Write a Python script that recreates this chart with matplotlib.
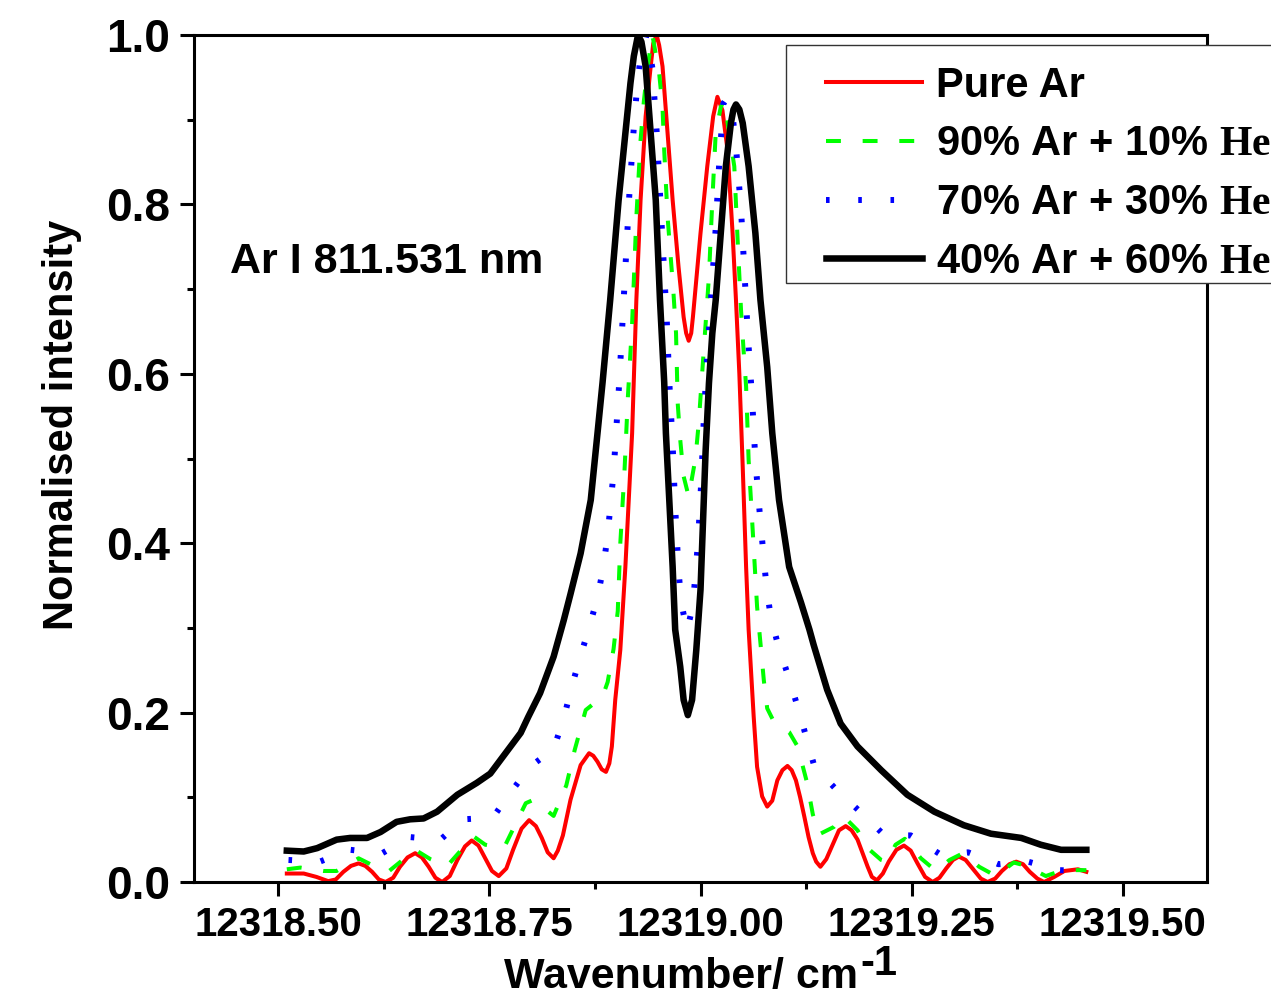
import numpy as np
import matplotlib
matplotlib.use("Agg")
import matplotlib.pyplot as plt
from matplotlib.lines import Line2D
from matplotlib.patches import Rectangle
from matplotlib.legend_handler import HandlerLine2D
from matplotlib.ticker import MultipleLocator, FormatStrFormatter

plt.rcParams['font.family'] = ['Liberation Sans', 'DejaVu Sans']
plt.rcParams['font.weight'] = 'bold'
plt.rcParams['mathtext.fontset'] = 'custom'
plt.rcParams['mathtext.rm'] = 'Liberation Serif:bold'

# -------------------------------------------------
# DATA (wavenumber / cm^-1, normalised intensity)
# -------------------------------------------------
pure_ar = [
    (12318.510, 0.010), (12318.530, 0.010), (12318.545, 0.006), (12318.559, 0.001),
    (12318.568, 0.003), (12318.577, 0.012), (12318.586, 0.019), (12318.595, 0.022),
    (12318.603, 0.019), (12318.611, 0.012), (12318.619, 0.003), (12318.627, 0.000),
    (12318.636, 0.005), (12318.644, 0.018), (12318.653, 0.029), (12318.662, 0.034),
    (12318.670, 0.029), (12318.678, 0.018), (12318.686, 0.005), (12318.694, 0.000),
    (12318.703, 0.007), (12318.712, 0.026), (12318.721, 0.042), (12318.729, 0.049),
    (12318.737, 0.043), (12318.745, 0.028), (12318.753, 0.013), (12318.761, 0.007),
    (12318.770, 0.016), (12318.778, 0.038), (12318.788, 0.063), (12318.797, 0.073),
    (12318.805, 0.066), (12318.812, 0.052), (12318.819, 0.035), (12318.826, 0.028),
    (12318.831, 0.037), (12318.837, 0.055), (12318.846, 0.097), (12318.858, 0.138),
    (12318.868, 0.152), (12318.873, 0.149), (12318.878, 0.142), (12318.883, 0.133),
    (12318.888, 0.130), (12318.892, 0.140), (12318.895, 0.160), (12318.899, 0.215),
    (12318.905, 0.274), (12318.911, 0.372), (12318.919, 0.530), (12318.924, 0.687),
    (12318.929, 0.805), (12318.935, 0.904), (12318.941, 0.963), (12318.944, 0.990),
    (12318.948, 1.000), (12318.951, 0.988), (12318.955, 0.963), (12318.961, 0.884),
    (12318.967, 0.805), (12318.974, 0.726), (12318.980, 0.667), (12318.983, 0.648),
    (12318.986, 0.639), (12318.989, 0.648), (12318.991, 0.667), (12319.000, 0.766),
    (12319.008, 0.845), (12319.015, 0.904), (12319.020, 0.927), (12319.026, 0.911),
    (12319.032, 0.864), (12319.038, 0.766), (12319.042, 0.687), (12319.046, 0.600),
    (12319.050, 0.490), (12319.054, 0.372), (12319.057, 0.298), (12319.063, 0.195),
    (12319.067, 0.136), (12319.073, 0.101), (12319.079, 0.089), (12319.085, 0.096),
    (12319.091, 0.120), (12319.097, 0.132), (12319.103, 0.137), (12319.108, 0.132),
    (12319.113, 0.120), (12319.118, 0.100), (12319.123, 0.077), (12319.128, 0.053),
    (12319.133, 0.034), (12319.137, 0.024), (12319.142, 0.018), (12319.149, 0.027),
    (12319.156, 0.043), (12319.164, 0.061), (12319.172, 0.066), (12319.179, 0.061),
    (12319.186, 0.050), (12319.192, 0.034), (12319.198, 0.018), (12319.203, 0.006),
    (12319.209, 0.002), (12319.216, 0.010), (12319.223, 0.024), (12319.232, 0.038),
    (12319.241, 0.043), (12319.249, 0.037), (12319.257, 0.022), (12319.266, 0.006),
    (12319.275, 0.000), (12319.283, 0.005), (12319.291, 0.016), (12319.299, 0.026),
    (12319.306, 0.030), (12319.314, 0.026), (12319.323, 0.015), (12319.332, 0.004),
    (12319.340, 0.000), (12319.349, 0.004), (12319.357, 0.013), (12319.366, 0.021),
    (12319.374, 0.024), (12319.382, 0.021), (12319.390, 0.012), (12319.399, 0.004),
    (12319.407, 0.000), (12319.419, 0.006), (12319.431, 0.013), (12319.447, 0.015),
    (12319.457, 0.012),
]

ar90_he10 = [
    (12318.510, 0.015), (12318.526, 0.017), (12318.553, 0.013), (12318.569, 0.013),
    (12318.595, 0.028), (12318.609, 0.021), (12318.630, 0.012), (12318.662, 0.038),
    (12318.680, 0.027), (12318.700, 0.019), (12318.731, 0.054), (12318.745, 0.044),
    (12318.767, 0.040), (12318.793, 0.093), (12318.802, 0.097), (12318.826, 0.078),
    (12318.841, 0.114), (12318.851, 0.156), (12318.864, 0.203), (12318.884, 0.219),
    (12318.890, 0.236), (12318.897, 0.275), (12318.902, 0.320), (12318.905, 0.400),
    (12318.910, 0.486), (12318.914, 0.573), (12318.919, 0.660), (12318.924, 0.785),
    (12318.929, 0.876), (12318.933, 0.923), (12318.938, 0.967), (12318.943, 1.000),
    (12318.951, 0.955), (12318.955, 0.915), (12318.957, 0.864), (12318.961, 0.785),
    (12318.965, 0.734), (12318.968, 0.695), (12318.971, 0.648), (12318.973, 0.565),
    (12318.976, 0.522), (12318.980, 0.479), (12318.986, 0.455), (12318.994, 0.500),
    (12318.998, 0.543), (12319.001, 0.587), (12319.004, 0.630), (12319.010, 0.715),
    (12319.014, 0.805), (12319.018, 0.884), (12319.024, 0.915), (12319.028, 0.923),
    (12319.034, 0.884), (12319.040, 0.845), (12319.044, 0.757), (12319.048, 0.675),
    (12319.051, 0.628), (12319.054, 0.585), (12319.057, 0.498), (12319.062, 0.412),
    (12319.067, 0.325), (12319.071, 0.282), (12319.075, 0.238), (12319.079, 0.205),
    (12319.087, 0.189), (12319.105, 0.177), (12319.115, 0.160), (12319.126, 0.118),
    (12319.133, 0.080), (12319.140, 0.056), (12319.158, 0.065), (12319.169, 0.078),
    (12319.186, 0.061), (12319.198, 0.040), (12319.214, 0.026), (12319.221, 0.024),
    (12319.231, 0.044), (12319.242, 0.051), (12319.261, 0.028), (12319.279, 0.013),
    (12319.295, 0.026), (12319.311, 0.034), (12319.330, 0.018), (12319.350, 0.007),
    (12319.371, 0.023), (12319.386, 0.019), (12319.409, 0.007), (12319.429, 0.014),
    (12319.457, 0.014),
]

ar70_he30 = [
    (12318.512, 0.026), (12318.549, 0.024), (12318.585, 0.038), (12318.623, 0.034),
    (12318.656, 0.053), (12318.692, 0.050), (12318.719, 0.074), (12318.754, 0.076),
    (12318.776, 0.107), (12318.798, 0.136), (12318.826, 0.157), (12318.838, 0.193),
    (12318.847, 0.229), (12318.857, 0.264), (12318.868, 0.300), (12318.878, 0.336),
    (12318.885, 0.372), (12318.890, 0.410), (12318.897, 0.483), (12318.904, 0.594),
    (12318.910, 0.706), (12318.916, 0.817), (12318.921, 0.891), (12318.924, 0.928),
    (12318.928, 0.966), (12318.936, 1.000), (12318.943, 0.961), (12318.948, 0.887),
    (12318.952, 0.813), (12318.956, 0.738), (12318.960, 0.664), (12318.963, 0.591),
    (12318.967, 0.516), (12318.970, 0.442), (12318.974, 0.368), (12318.977, 0.331),
    (12318.984, 0.296), (12318.991, 0.327), (12318.997, 0.401), (12319.001, 0.475),
    (12319.004, 0.549), (12319.008, 0.623), (12319.013, 0.697), (12319.018, 0.772),
    (12319.022, 0.846), (12319.027, 0.919), (12319.031, 0.925), (12319.038, 0.905),
    (12319.042, 0.868), (12319.048, 0.794), (12319.052, 0.721), (12319.056, 0.647),
    (12319.061, 0.572), (12319.065, 0.498), (12319.071, 0.425), (12319.078, 0.350),
    (12319.083, 0.314), (12319.092, 0.279), (12319.104, 0.243), (12319.115, 0.207),
    (12319.125, 0.172), (12319.135, 0.136), (12319.162, 0.108), (12319.189, 0.083),
    (12319.218, 0.055), (12319.249, 0.055), (12319.285, 0.032), (12319.317, 0.035),
    (12319.353, 0.021), (12319.388, 0.024), (12319.424, 0.014), (12319.457, 0.013),
]

ar40_he60 = [
    (12318.510, 0.037), (12318.530, 0.036), (12318.546, 0.040), (12318.569, 0.050),
    (12318.585, 0.052), (12318.605, 0.052), (12318.621, 0.059), (12318.640, 0.071),
    (12318.656, 0.074), (12318.672, 0.075), (12318.688, 0.083), (12318.712, 0.103),
    (12318.735, 0.117), (12318.751, 0.128), (12318.775, 0.160), (12318.787, 0.176),
    (12318.796, 0.195), (12318.810, 0.223), (12318.826, 0.266), (12318.838, 0.309),
    (12318.846, 0.340), (12318.858, 0.388), (12318.870, 0.451), (12318.878, 0.530),
    (12318.884, 0.590), (12318.893, 0.687), (12318.903, 0.805), (12318.911, 0.884),
    (12318.917, 0.943), (12318.921, 0.975), (12318.926, 1.000), (12318.930, 0.992),
    (12318.935, 0.963), (12318.941, 0.884), (12318.947, 0.805), (12318.952, 0.687),
    (12318.957, 0.590), (12318.959, 0.530), (12318.963, 0.451), (12318.967, 0.372),
    (12318.970, 0.298), (12318.976, 0.254), (12318.980, 0.215), (12318.985, 0.197),
    (12318.990, 0.215), (12318.995, 0.274), (12319.000, 0.345), (12319.006, 0.508),
    (12319.010, 0.589), (12319.014, 0.648), (12319.018, 0.687), (12319.024, 0.766),
    (12319.030, 0.845), (12319.036, 0.896), (12319.039, 0.912), (12319.042, 0.918),
    (12319.046, 0.912), (12319.050, 0.896), (12319.057, 0.845), (12319.065, 0.766),
    (12319.071, 0.687), (12319.079, 0.608), (12319.085, 0.530), (12319.093, 0.451),
    (12319.105, 0.372), (12319.119, 0.330), (12319.129, 0.298), (12319.134, 0.280),
    (12319.150, 0.227), (12319.166, 0.187), (12319.186, 0.160), (12319.214, 0.132),
    (12319.245, 0.103), (12319.277, 0.083), (12319.312, 0.067), (12319.344, 0.057),
    (12319.380, 0.052), (12319.403, 0.044), (12319.427, 0.038), (12319.457, 0.038),
]

series_labels = [
    "Pure Ar",
    "90% Ar + 10% $\\mathrm{He}$",
    "70% Ar + 30% $\\mathrm{He}$",
    "40% Ar + 60% $\\mathrm{He}$",
]

x_ticks = [12318.50, 12318.75, 12319.00, 12319.25, 12319.50]
y_ticks = [0.0, 0.2, 0.4, 0.6, 0.8, 1.0]

# -------------------------------------------------
# FIGURE
# -------------------------------------------------
fig = plt.figure(figsize=(12.71, 9.89), dpi=100)
ax = fig.add_axes([0.1526, 0.1082, 0.7971, 0.8564])

styles = [
    dict(color='#ff0000', lw=2.9, ls='-'),
    dict(color='#00ff00', lw=2.9, ls=(0, (3.7, 5.4))),
    dict(color='#0000ff', lw=4.3, ls=(0, (0.6, 4.8))),
    dict(color='#000000', lw=4.7, ls='-'),
]

for data, lab, st in zip([pure_ar, ar90_he10, ar70_he30, ar40_he60], series_labels, styles):
    xs, ys = np.array(data).T
    ax.plot(xs, ys, label=lab, **st)

ax.set_xlim(12318.40, 12319.60)
ax.set_ylim(0.0, 1.0)
ax.set_xticks(x_ticks)
ax.set_yticks(y_ticks)
ax.xaxis.set_minor_locator(MultipleLocator(0.125))
ax.yaxis.set_minor_locator(MultipleLocator(0.1))
ax.xaxis.set_major_formatter(FormatStrFormatter('%.2f'))
ax.yaxis.set_major_formatter(FormatStrFormatter('%.1f'))

for sp in ax.spines.values():
    sp.set_linewidth(2.2)
ax.tick_params(which='major', direction='out', length=10, width=2.2, top=False, right=False)
ax.tick_params(which='minor', direction='out', length=5, width=2.2, top=False, right=False)
ax.tick_params(axis='x', which='major', labelsize=29, pad=7)
ax.tick_params(axis='y', which='major', labelsize=33, pad=7)
for t in ax.get_xticklabels() + ax.get_yticklabels():
    t.set_fontweight('bold')

ax.set_ylabel("Normalised intensity", fontsize=30, fontweight='bold')
ax.yaxis.label.set_va('center')
ax.yaxis.label.set_ha('center')
ax.yaxis.set_label_coords(-0.130, 0.54)

fig.text(858 / 1271, 0.001, "Wavenumber/ cm", fontsize=31, fontweight='bold',
         ha='right', va='baseline')
fig.text(860 / 1271, 1 - 975 / 989, "-1", fontsize=30, fontweight='bold',
         ha='left', va='baseline')

ax.text(12318.443, 0.719, "Ar I 811.531 nm", fontsize=31, fontweight='bold',
        ha='left', va='baseline')

# legend box (runs past the right edge of the picture)
box = Rectangle((786 / 1271, 1 - 283 / 989), 600 / 1271, 238 / 989,
                transform=fig.transFigure, facecolor='white',
                edgecolor='#333333', lw=1.0, zorder=4)
fig.add_artist(box)

handles, labels = ax.get_legend_handles_labels()
leg = fig.legend(handles, labels, loc='upper left',
                 bbox_to_anchor=(786 / 1271, 1 - 49 / 989),
                 fontsize=30, frameon=False,
                 borderpad=0.4, labelspacing=0.45, handlelength=2.86,
                 handletextpad=0.33, borderaxespad=0,
                 handler_map={Line2D: HandlerLine2D(xpad=0.57)})
leg.set_zorder(5)
for t in leg.get_texts():
    t.set_fontweight('bold')

fig.savefig("out.png", dpi=100)
